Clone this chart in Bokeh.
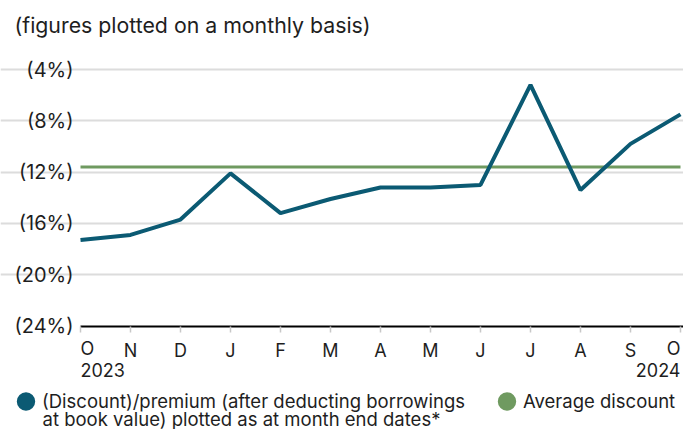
from bokeh.plotting import figure
from bokeh.models import Range1d, FixedTicker, Label, Legend, LegendItem, LinearAxis
from bokeh.embed import file_html
from bokeh.resources import INLINE

# ---- data ----
months = ["O", "N", "D", "J", "F", "M", "A", "M", "J", "J", "A", "S", "O"]
years = ["2023", "2024"]
discount = [-17.3, -16.9, -15.7, -12.1, -15.2, -14.1, -13.2, -13.2, -13.0, -5.2, -13.4, -9.8, -7.5]
average_discount = -11.6
y_ticks = [-24, -20, -16, -12, -8, -4]
y_tick_labels = ["(24%)", "(20%)", "(16%)", "(12%)", "(8%)", "(4%)"]
subtitle = "(figures plotted on a monthly basis)"
series_label = ["(Discount)/premium (after deducting borrowings",
                "at book value) plotted as at month end dates*"]
average_label = "Average discount"

# ---- style / layout ----
BLUE = "#0b5a73"
GREEN = "#6f9a60"
GRID = "#dcdcdc"
TEXT = "#1e1e1e"
FONT = "Inter"

W, H = 683, 429
PX_X = 600 / 12.0       # pixels per month
PX_Y = 256.5 / 20.0     # pixels per percentage point
LEFT = 80               # px position of first month
AXIS_Y = 325.5          # px position (from top) of the bottom value

x = list(range(len(months)))
x0 = -LEFT / PX_X
x1 = x[-1] + (W - LEFT - PX_X * x[-1]) / PX_X
y_top = y_ticks[0] + AXIS_Y / PX_Y
y_bot = y_ticks[0] - (H - AXIS_Y) / PX_Y

p = figure(width=W, height=H, output_backend="svg", toolbar_location=None,
           x_range=Range1d(x0, x1), y_range=Range1d(y_bot, y_top),
           x_axis_location=None, y_axis_location=None, min_border=0)
p.outline_line_color = None
p.border_fill_color = "white"
p.background_fill_color = "white"

# x axis fixed at the bottom value
xaxis = LinearAxis(fixed_location=y_ticks[0], bounds=(x[0], x1))
xaxis.ticker = FixedTicker(ticks=x)
overrides = {i: months[i] for i in x}
overrides[x[0]] = ""
overrides[x[-1]] = ""
xaxis.major_label_overrides = overrides
xaxis.axis_line_color = "black"
xaxis.axis_line_width = 2
xaxis.major_tick_line_color = "#c8c8c8"
xaxis.major_tick_line_width = 1.5
xaxis.major_tick_out = 6
xaxis.major_tick_in = 0
xaxis.minor_tick_line_color = None
xaxis.major_label_standoff = 8
xaxis.major_label_text_font = FONT
xaxis.major_label_text_font_size = "18px"
xaxis.major_label_text_color = TEXT
p.add_layout(xaxis, "below")

# y axis fixed at first month
yaxis = LinearAxis(fixed_location=x[0])
yaxis.ticker = FixedTicker(ticks=y_ticks)
yaxis.major_label_overrides = {t: l for t, l in zip(y_ticks, y_tick_labels)}
yaxis.axis_line_color = None
yaxis.major_tick_line_color = None
yaxis.major_tick_out = 0
yaxis.major_tick_in = 0
yaxis.minor_tick_line_color = None
yaxis.major_label_standoff = 7
yaxis.major_label_text_font = FONT
yaxis.major_label_text_font_size = "20px"
yaxis.major_label_text_color = TEXT
p.add_layout(yaxis, "left")

p.xgrid.visible = False
p.ygrid.ticker = FixedTicker(ticks=y_ticks[1:])
p.ygrid.bounds = (x[0], x[-1])
p.ygrid.grid_line_color = GRID
p.ygrid.grid_line_width = 2

# average line
p.line(x, [average_discount] * len(x), line_color=GREEN, line_width=3)

# discount line
p.line(x, discount, line_color=BLUE, line_width=4)

# legend swatch renderers (tiny round ellipses, only used for the legend glyphs)
r_blue = p.ellipse(x, discount, width=0.01, height=0.01, width_units="screen",
                   height_units="screen", fill_color=BLUE, line_color=None)
r_green = p.ellipse(x, [average_discount] * len(x), width=0.01, height=0.01,
                    width_units="screen", height_units="screen",
                    fill_color=GREEN, line_color=None)

def add_legend(label, renderer, loc):
    lg = Legend(items=[LegendItem(label=label, renderers=[renderer])], location=loc,
                glyph_width=23, glyph_height=46, label_standoff=5, padding=0, margin=0,
                border_line_color=None, background_fill_alpha=0,
                label_text_font=FONT, label_text_font_size="18.5px", label_text_color=TEXT)
    p.add_layout(lg)

add_legend(series_label[0], r_blue, (14, 5))
add_legend(average_label, r_green, (495, 5))

# first / last month labels, year labels, second legend line, subtitle
def add_label(text, xv, yv, align, size, xunits="data", baseline="middle"):
    p.add_layout(Label(x=xv, y=yv, x_units=xunits, y_units="screen", text=text,
                       text_align=align, text_baseline=baseline, text_font=FONT,
                       text_font_size=size, text_color=TEXT))

add_label(months[0], x[0], H - 348, "left", "18px")
add_label(months[-1], x[-1], H - 348, "right", "18px")
add_label(years[0], x[0], H - 369, "left", "18px")
add_label(years[1], x[-1], H - 369, "right", "18px")
add_label(series_label[1], 42, H - 418, "left", "18.5px", xunits="screen")
add_label(subtitle, 14, H - 24.5, "left", "21.3px", xunits="screen")

open("out.html", "w").write(file_html(p, INLINE))
